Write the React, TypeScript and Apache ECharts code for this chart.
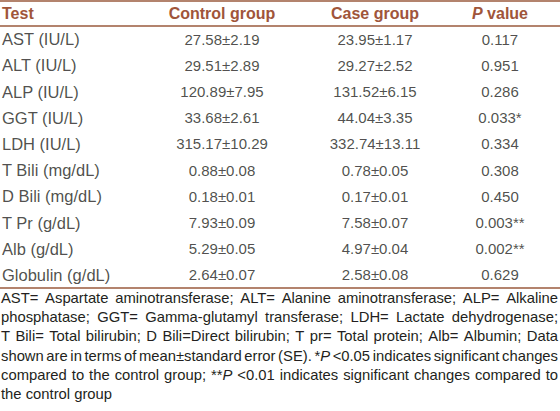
import React, { useEffect, useRef } from "react";
import * as echarts from "echarts";

const headers = ["Test", "Control group", "Case group", "P value"];
const tests = [
  "AST (IU/L)",
  "ALT (IU/L)",
  "ALP (IU/L)",
  "GGT (IU/L)",
  "LDH (IU/L)",
  "T Bili (mg/dL)",
  "D Bili (mg/dL)",
  "T Pr (g/dL)",
  "Alb (g/dL)",
  "Globulin (g/dL)",
];
const controlMean = [27.58, 29.51, 120.89, 33.68, 315.17, 0.88, 0.18, 7.93, 5.29, 2.64];
const controlSE = [2.19, 2.89, 7.95, 2.61, 10.29, 0.08, 0.01, 0.09, 0.05, 0.07];
const caseMean = [23.95, 29.27, 131.52, 44.04, 332.74, 0.78, 0.17, 7.58, 4.97, 2.58];
const caseSE = [1.17, 2.52, 6.15, 3.35, 13.11, 0.05, 0.01, 0.07, 0.04, 0.08];
const pValues = [0.117, 0.951, 0.286, 0.033, 0.334, 0.308, 0.45, 0.003, 0.002, 0.629];
const stars = ["", "", "", "*", "", "", "", "**", "**", ""];

const footnote = [
  "AST= Aspartate aminotransferase; ALT= Alanine aminotransferase; ALP= Alkaline",
  "phosphatase; GGT= Gamma-glutamyl transferase; LDH= Lactate dehydrogenase;",
  "T Bili= Total bilirubin; D Bili=Direct bilirubin; T pr= Total protein; Alb= Albumin; Data",
  "shown are in terms of mean\u00b1standard error (SE). *{i|P} <0.05 indicates significant changes",
  "compared to the control group; **{i|P} <0.01 indicates significant changes compared to",
  "the control group",
];

const W = 560;
const H = 411;
const BROWN = "#9a5a3c";
const HEAD = "#a0553a";
const INK = "#231f20";
const FONT = "'Liberation Sans', Arial, Helvetica, sans-serif";
const TOP = 26;
const ROW_H = 26.2;
const COL_X = { test: 2, control: 222, case: 375, p: 500 };
const FOOT_SIZE = 14.8;
const FOOT_LEFT = 1;
const FOOT_RIGHT = 558;

export default function App() {
  const ref = useRef<HTMLDivElement>(null);
  useEffect(() => {
    document.body.style.margin = "0";
    const chart = echarts.init(ref.current!, undefined, { renderer: "svg" });
    const tableBottom = TOP + ROW_H * tests.length;
    const ctx = document.createElement("canvas").getContext("2d")!;
    ctx.font = `${FOOT_SIZE}px ${FONT}`;
    const measure = (s: string) => ctx.measureText(s.replace(/\{i\|([^}]*)\}/g, "$1")).width;

    const mkSeries = (name: string, x: number, texts: string[], align: string, size: number) => ({
      name,
      type: "scatter",
      symbolSize: 0,
      silent: true,
      data: tests.map((t, i) => ({ value: [x, t], text: texts[i] })),
      label: {
        show: true,
        position: "inside",
        align,
        formatter: (p: any) => p.data.text,
        color: INK,
        fontFamily: FONT,
        fontSize: size,
      },
    });
    const graphic: any[] = [
      { type: "line", shape: { x1: 0, y1: 1, x2: W, y2: 1 }, style: { stroke: BROWN, lineWidth: 1.5 } },
      { type: "line", shape: { x1: 0, y1: TOP, x2: W, y2: TOP }, style: { stroke: BROWN, lineWidth: 1.5 } },
      {
        type: "line",
        shape: { x1: 0, y1: tableBottom, x2: W, y2: tableBottom },
        style: { stroke: BROWN, lineWidth: 1.5 },
      },
    ];
    const headX = [COL_X.test, COL_X.control, COL_X.case, COL_X.p];
    headers.forEach((h, i) => {
      graphic.push({
        type: "text",
        x: headX[i],
        y: 13.5,
        style: {
          text: h === "P value" ? "{i|P} value" : h,
          fill: HEAD,
          font: `bold 16px ${FONT}`,
          align: i === 0 ? "left" : "center",
          verticalAlign: "middle",
          rich: { i: { fontStyle: "italic", fontWeight: "bold", fontSize: 16, fontFamily: FONT, fill: HEAD } },
        },
      });
    });
    const footStyle = (text: string) => ({
      text,
      fill: INK,
      font: `${FOOT_SIZE}px ${FONT}`,
      align: "left",
      verticalAlign: "middle",
      rich: { i: { fontStyle: "italic", fontSize: FOOT_SIZE, fontFamily: FONT, fill: INK } },
    });
    footnote.forEach((line, li) => {
      const y = tableBottom + 10 + li * 19.2;
      const last = li === footnote.length - 1;
      if (last) {
        graphic.push({ type: "text", x: FOOT_LEFT, y, style: footStyle(line) });
        return;
      }
      const words = line.split(" ");
      const widths = words.map(measure);
      const total = widths.reduce((a, b) => a + b, 0);
      const gap = (FOOT_RIGHT - FOOT_LEFT - total) / (words.length - 1);
      let x = FOOT_LEFT;
      const children: any[] = [];
      words.forEach((w, wi) => {
        children.push({ type: "text", x, y: 0, style: footStyle(w) });
        x += widths[wi] + gap;
      });
      graphic.push({ type: "group", x: 0, y, children });
    });
    chart.setOption({
      animation: false,
      grid: { left: 0, right: 0, top: TOP, height: ROW_H * tests.length, containLabel: false },
      xAxis: { type: "value", min: 0, max: W, show: false },
      yAxis: { type: "category", data: tests, inverse: true, show: false },
      series: [
        mkSeries("Test", COL_X.test, tests, "left", 16.5),
        mkSeries(
          "Control group",
          COL_X.control,
          controlMean.map((m, i) => `${m.toFixed(2)}\u00b1${controlSE[i].toFixed(2)}`),
          "center",
          15
        ),
        mkSeries(
          "Case group",
          COL_X.case,
          caseMean.map((m, i) => `${m.toFixed(2)}\u00b1${caseSE[i].toFixed(2)}`),
          "center",
          15
        ),
        mkSeries(
          "P value",
          COL_X.p,
          pValues.map((p, i) => `${p.toFixed(3)}${stars[i]}`),
          "center",
          15
        ),
      ],
      graphic,
    });
    return () => chart.dispose();
  }, []);
  return <div ref={ref} style={{ width: W, height: H, background: "#fff" }} />;
}
